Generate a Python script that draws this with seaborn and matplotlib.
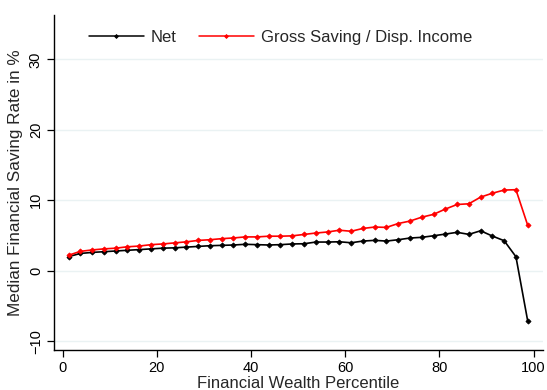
import numpy as np
import pandas as pd
import matplotlib
matplotlib.use("Agg")
import matplotlib.pyplot as plt
import seaborn as sns

# Percentile bin midpoints (2.5-point bins)
percentile = [1.25 + 2.5 * i for i in range(40)]

net = [2.0, 2.45, 2.6, 2.7, 2.8, 2.9, 3.0, 3.1, 3.2, 3.25,
       3.35, 3.45, 3.55, 3.6, 3.65, 3.75, 3.7, 3.65, 3.7, 3.8,
       3.83, 4.07, 4.07, 4.11, 3.97, 4.21, 4.31, 4.21, 4.4, 4.64,
       4.74, 4.96, 5.2, 5.45, 5.16, 5.67, 4.92, 4.26, 1.99, -7.13]

gross = [2.2, 2.75, 2.95, 3.1, 3.2, 3.4, 3.5, 3.7, 3.8, 3.95,
         4.1, 4.3, 4.4, 4.55, 4.65, 4.8, 4.8, 4.9, 4.9, 4.95,
         5.15, 5.35, 5.5, 5.75, 5.6, 6.0, 6.2, 6.15, 6.7, 7.05,
         7.6, 8.0, 8.75, 9.4, 9.5, 10.45, 11.0, 11.45, 11.5, 6.45]

series_names = ["Net", "Gross Saving / Disp. Income"]
x_ticks = [0, 20, 40, 60, 80, 100]
y_ticks = [-10, 0, 10, 20, 30]

df = pd.DataFrame({
    "pct": percentile * 2,
    "rate": net + gross,
    "series": [series_names[0]] * len(net) + [series_names[1]] * len(gross),
})

sns.set_theme(style="white")
plt.rcParams["font.family"] = ["Liberation Sans", "DejaVu Sans"]

fig = plt.figure(figsize=(5.47, 3.90), dpi=100)
ax = fig.add_axes([0.0987, 0.1026, 0.894, 0.859])

for yt in y_ticks:
    ax.axhline(yt, color="#EAF2F3", lw=1.0, zorder=0)

sns.lineplot(data=df, x="pct", y="rate", hue="series",
             palette={series_names[0]: "black", series_names[1]: "#FF0000"},
             marker="D", markersize=2.6, markeredgewidth=0.6,
             linewidth=1.2, ax=ax, legend=True)

# marker outlines in the series colour
for line in ax.lines:
    line.set_markeredgecolor(line.get_color())

ax.set_xlim(-1.85, 102)
ax.set_ylim(-11.25, 36.3)
ax.set_xticks(x_ticks)
ax.set_yticks(y_ticks)
ax.set_yticklabels([str(v) if v >= 0 else "\u2212" + str(-v) for v in y_ticks],
                   rotation=90, va="center")
ax.tick_params(axis="both", direction="out", length=5, width=0.9,
               labelsize=10.5, color="black", labelcolor="black", pad=3)
ax.tick_params(axis="x", bottom=True)
ax.tick_params(axis="y", left=True)

for side in ["top", "right"]:
    ax.spines[side].set_visible(False)
for side in ["left", "bottom"]:
    ax.spines[side].set_color("black")
    ax.spines[side].set_linewidth(1.0)

ax.set_xlabel("Financial Wealth Percentile", fontsize=12, labelpad=1)
ax.set_ylabel("Median Financial Saving Rate in %", fontsize=12.3, labelpad=4)

leg = ax.legend(loc="upper left", bbox_to_anchor=(0.04, 1.0), ncol=2,
                frameon=False, fontsize=12, handlelength=3.3,
                columnspacing=1.3, handletextpad=0.45)
for line in leg.get_lines():
    line.set_linewidth(1.1)
    line.set_markersize(2.0)
    line.set_markeredgecolor(line.get_color())

fig.savefig("out.png", dpi=100, facecolor="white")
